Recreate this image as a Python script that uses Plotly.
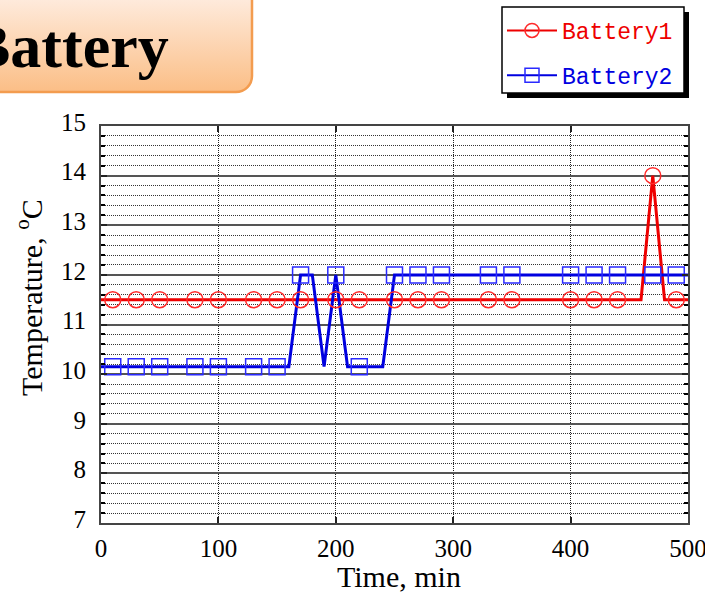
import base64
import plotly.graph_objects as go

# ---------------- data ----------------
red_line_t = [0, 460, 470, 480, 500]
red_line_v = [11.5, 11.5, 14.0, 11.5, 11.5]

blue_line_t = [0, 160, 170, 180, 190, 200, 210, 240, 250, 500]
blue_line_v = [10.15, 10.15, 12.0, 12.0, 10.15, 12.0, 10.15, 10.15, 12.0, 12.0]

marker_t = [10, 30, 50, 80, 100, 130, 150, 170, 200, 220,
            250, 270, 290, 330, 350, 400, 420, 440, 470, 490]
red_marker_v = [11.5, 11.5, 11.5, 11.5, 11.5, 11.5, 11.5, 11.5, 11.5, 11.5,
                11.5, 11.5, 11.5, 11.5, 11.5, 11.5, 11.5, 11.5, 14.0, 11.5]
blue_marker_v = [10.15, 10.15, 10.15, 10.15, 10.15, 10.15, 10.15, 12.0, 12.0, 10.15,
                 12.0, 12.0, 12.0, 12.0, 12.0, 12.0, 12.0, 12.0, 12.0, 12.0]

series_names = ["Battery1", "Battery2"]
x_ticks = [0, 100, 200, 300, 400, 500]
y_ticks = [7, 8, 9, 10, 11, 12, 13, 14, 15]

# ---------------- layout constants ----------------
W, H = 705, 593
ML, MR, MT, MB = 101, 17, 126, 70
PW, PH = W - ML - MR, H - MT - MB

def px_x(px):
    return (px - ML) / PW

def px_y(py):
    return (H - MB - py) / PH

RED_LINE = "#ee0000"
RED_MK = "#ff2a2a"
BLUE_LINE = "#0000e0"
BLUE_MK = "#2a2aff"

fig = go.Figure()

# lines
fig.add_trace(go.Scatter(x=red_line_t, y=red_line_v, mode="lines",
                         line=dict(color=RED_LINE, width=3), showlegend=False))
fig.add_trace(go.Scatter(x=blue_line_t, y=blue_line_v, mode="lines",
                         line=dict(color=BLUE_LINE, width=3), showlegend=False))
# markers
fig.add_trace(go.Scatter(x=marker_t, y=red_marker_v, mode="markers",
                         marker=dict(symbol="circle-open", size=16, color=RED_MK,
                                     line=dict(width=1.5, color=RED_MK)),
                         showlegend=False))
fig.add_trace(go.Scatter(x=marker_t, y=blue_marker_v, mode="markers",
                         marker=dict(symbol="square-open", size=16, color=BLUE_MK,
                                     line=dict(width=1.5, color=BLUE_MK)),
                         showlegend=False))
# legend entries
fig.add_trace(go.Scatter(x=[None], y=[None], mode="lines+markers",
                         name=f"<span style='color:{RED_LINE}'>{series_names[0]}</span>",
                         legendgroup="a",
                         line=dict(color=RED_LINE, width=2),
                         marker=dict(symbol="circle-open", size=14, color=RED_MK,
                                     line=dict(width=1.5, color=RED_MK))))
fig.add_trace(go.Scatter(x=[None], y=[None], mode="lines+markers",
                         name=f"<span style='color:{BLUE_LINE}'>{series_names[1]}</span>",
                         legendgroup="b",
                         line=dict(color=BLUE_LINE, width=2),
                         marker=dict(symbol="square-open", size=14, color=BLUE_MK,
                                     line=dict(width=1.5, color=BLUE_MK))))

serif = "Liberation Serif, Times New Roman, serif"

fig.update_xaxes(
    range=[0, 500], tickvals=x_ticks, ticktext=[str(v) for v in x_ticks],
    showgrid=True, gridcolor="#222", griddash="1px,1px", gridwidth=1,
    ticks="inside", ticklen=6, tickwidth=1.5, tickcolor="#222",
    showline=True, linecolor="#444", linewidth=2, mirror="allticks",
    zeroline=False, automargin=False, ticklabeloverflow="allow",
    ticklabelstandoff=2,
    tickfont=dict(family=serif, size=25, color="black"),
)
fig.update_yaxes(
    range=[7, 15], tickvals=y_ticks, ticktext=[str(v) for v in y_ticks],
    showgrid=True, gridcolor="#555", gridwidth=2,
    ticks="inside", ticklen=6, tickwidth=1.5, tickcolor="#222",
    showline=True, linecolor="#444", linewidth=2, mirror="allticks",
    zeroline=False, automargin=False, ticklabeloverflow="allow",
    ticklabelstandoff=8, ticklabelshift=-4,
    minor=dict(dtick=0.2, showgrid=True, gridcolor="#333", griddash="1px,1px",
               gridwidth=1, ticks="inside", ticklen=4, tickcolor="black"),
    tickfont=dict(family=serif, size=25, color="black"),
)

# title box image (gradient rounded rectangle)
svg = ('<svg xmlns="http://www.w3.org/2000/svg" width="256" height="96" viewBox="0 0 256 96">'
       '<defs><linearGradient id="g" gradientUnits="userSpaceOnUse" x1="0" y1="0" x2="0" y2="92">'
       '<stop offset="0" stop-color="#FEEADB"/><stop offset="1" stop-color="#FBBE86"/>'
       '</linearGradient></defs>'
       '<rect x="-30" y="-30" width="282" height="122" rx="16" ry="16" fill="url(#g)" '
       'stroke="#F39C4F" stroke-width="2.5"/></svg>')
src = "data:image/svg+xml;base64," + base64.b64encode(svg.encode()).decode()

fig.update_layout(
    width=W, height=H,
    margin=dict(l=ML, r=MR, t=MT, b=MB, autoexpand=False),
    paper_bgcolor="white", plot_bgcolor="white",
    images=[dict(source=src, xref="paper", yref="paper",
                 x=px_x(0), y=px_y(0), sizex=256 / PW, sizey=96 / PH,
                 xanchor="left", yanchor="top", sizing="stretch", layer="above")],
    annotations=[
        dict(text="<b>Battery</b>", xref="paper", yref="paper",
             x=px_x(171), y=px_y(46), xanchor="right", yanchor="middle",
             showarrow=False, font=dict(family=serif, size=62, color="black")),
        dict(text="Temperature, <sup>o</sup>C", xref="paper", yref="paper",
             x=px_x(29), y=px_y(298), xanchor="center", yanchor="middle",
             textangle=-90, showarrow=False,
             font=dict(family=serif, size=30, color="black")),
        dict(text="Time, min", xref="paper", yref="paper",
             x=px_x(399), y=px_y(576), xanchor="center", yanchor="middle",
             showarrow=False, font=dict(family=serif, size=30, color="black")),
    ],
    shapes=[
        dict(type="rect", xref="paper", yref="paper",
             x0=px_x(507), x1=px_x(689), y0=px_y(98), y1=px_y(12),
             fillcolor="black", line=dict(width=0), layer="above"),
        dict(type="rect", xref="paper", yref="paper",
             x0=px_x(502), x1=px_x(684), y0=px_y(93), y1=px_y(7),
             fillcolor="white", line=dict(color="black", width=1.5), layer="above"),
    ],
    legend=dict(x=px_x(502), y=px_y(9), xanchor="left", yanchor="top",
                bgcolor="rgba(0,0,0,0)", borderwidth=0,
                font=dict(family="Liberation Mono, monospace", size=23),
                itemwidth=50, traceorder="grouped", tracegroupgap=12),
)

fig.write_html("out.html")
